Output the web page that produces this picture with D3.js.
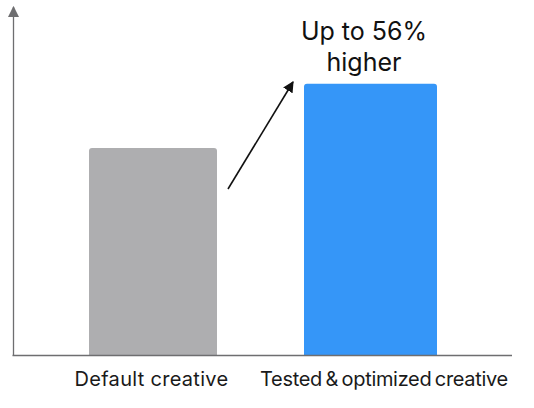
<!DOCTYPE html>
<html><head><meta charset="utf-8">
<script src="https://cdn.jsdelivr.net/npm/d3@7"></script>
<style>html,body{margin:0;padding:0;background:#fff}svg{display:block}text{font-family:Inter,"Liberation Sans",sans-serif}</style>
</head><body><svg id="c" width="534" height="408"></svg>
<script>
const categories = ["Default creative", "Tested & optimized creative"];
const values = [100, 131];
const annotationLines = ["Up to 56%", "higher"];

const svg = d3.select("#c");
const baseY = 355.5, axisX = 13.5;
const y = d3.scaleLinear().domain([0, 100]).range([baseY, 148]);
const x = d3.scalePoint().domain(categories).range([153, 370.5]);
const widths = [128, 133], colors = ["#aeaeb0", "#3596f8"];

svg.append("defs").append("marker").attr("id","ax").attr("viewBox","0 0 10 10").attr("refX",9).attr("refY",5)
  .attr("markerUnits","userSpaceOnUse").attr("markerWidth",11).attr("markerHeight",11).attr("orient","auto")
  .append("path").attr("d","M0,0L10,5L0,10Z").attr("fill","#6e6e70");
svg.select("defs").append("marker").attr("id","ar").attr("viewBox","0 0 10 10").attr("refX",9).attr("refY",5)
  .attr("markerUnits","userSpaceOnUse").attr("markerWidth",11).attr("markerHeight",11).attr("orient","auto")
  .append("path").attr("d","M0,0L10,5L0,10Z").attr("fill","#111");

svg.selectAll("path.bar").data(values).join("path").attr("class","bar")
  .attr("fill",(d,i)=>colors[i])
  .attr("d",(d,i)=>{
    const l=x(categories[i])-widths[i]/2, r=l+widths[i], t=y(d), b=baseY, q=3;
    return `M${l},${b}V${t+q}Q${l},${t} ${l+q},${t}H${r-q}Q${r},${t} ${r},${t+q}V${b}Z`;
  });

svg.append("line").attr("x1",axisX).attr("x2",axisX).attr("y1",baseY).attr("y2",7)
  .attr("stroke","#6e6e70").attr("stroke-width",1.3).attr("marker-end","url(#ax)");
svg.append("line").attr("x1",axisX-1).attr("x2",512).attr("y1",baseY).attr("y2",baseY)
  .attr("stroke","#6e6e70").attr("stroke-width",1.3);

svg.selectAll("text.cat").data(categories).join("text").attr("class","cat")
  .attr("x",(d,i)=>[151.5,384][i]).attr("y",386).attr("text-anchor","middle")
  .attr("font-size",20).attr("fill","#1a1a1a")
  .attr("letter-spacing",(d,i)=>[0.3,-0.32][i]).attr("word-spacing",(d,i)=>[0,-1.8][i]).text(d=>d);

svg.append("line").attr("x1",228).attr("y1",189).attr("x2",293).attr("y2",82)
  .attr("stroke","#111").attr("stroke-width",1.6).attr("marker-end","url(#ar)");

svg.selectAll("text.note").data(annotationLines).join("text").attr("class","note")
  .attr("x",364).attr("y",(d,i)=>40+i*30.5).attr("text-anchor","middle")
  .attr("font-size",25).attr("fill","#111").text(d=>d);
</script></body></html>
